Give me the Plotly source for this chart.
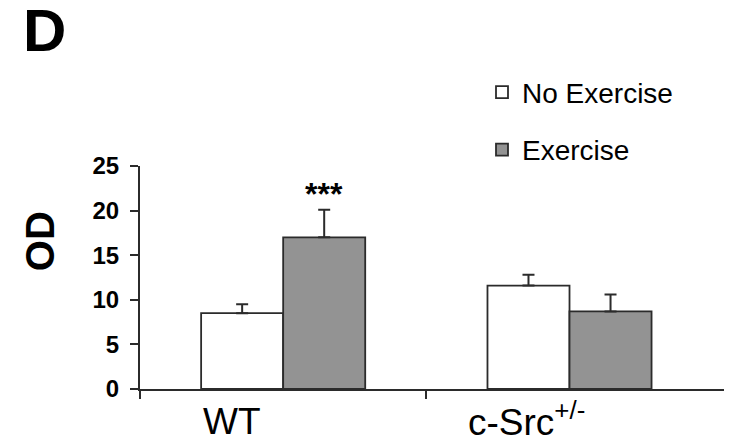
import plotly.graph_objects as go

categories = ["WT", "c-Src+/-"]
series_names = ["No Exercise", "Exercise"]
no_ex_values = [8.5, 11.6]
no_ex_err = [1.0, 1.2]
ex_values = [17.0, 8.7]
ex_err = [3.1, 1.9]
y_ticks = [0, 5, 10, 15, 20, 25]

FONT = "Liberation Sans, Arial, sans-serif"
LINE = "#2b2b2b"

fig = go.Figure()
fig.add_trace(go.Bar(
    name=series_names[0], x=categories, y=no_ex_values, legendgroup="a",
    marker=dict(color="white", line=dict(color=LINE, width=1.8)),
    error_y=dict(type="data", symmetric=False, array=no_ex_err,
                 arrayminus=[0, 0], color=LINE, thickness=2, width=6),
))
fig.add_trace(go.Bar(
    name=series_names[1], x=categories, y=ex_values, legendgroup="b",
    marker=dict(color="#939393", line=dict(color=LINE, width=1.8)),
    error_y=dict(type="data", symmetric=False, array=ex_err,
                 arrayminus=[0, 0], color=LINE, thickness=2, width=6),
))

annotations = [
    dict(text="D", xref="paper", yref="paper", x=(21 - 140) / 587, y=(389 - 30) / 223.3,
         xanchor="left", yanchor="middle", showarrow=False,
         font=dict(family=FONT, size=60, color="black", weight="bold")),
    dict(text="OD", xref="paper", yref="paper", x=(40 - 140) / 587, y=(389 - 241) / 223.3,
         xanchor="center", yanchor="middle", textangle=-90, showarrow=False,
         font=dict(family=FONT, size=40, color="black", weight="bold")),
    dict(text="***", xref="x", yref="y", x=categories[0], xshift=41,
         y=ex_values[0] + ex_err[0], yanchor="bottom", yshift=-4, showarrow=False,
         font=dict(family=FONT, size=32, color="black", weight="bold")),
    dict(text="WT", xref="x", yref="paper", x=categories[0], xshift=-51, y=0,
         yanchor="top", yshift=-10, showarrow=False,
         font=dict(family=FONT, size=37, color="black")),
    dict(text="c-Src<sup>+/-</sup>", xref="x", yref="paper", x=categories[1], xshift=-43, y=0,
         yanchor="top", yshift=-5, showarrow=False,
         font=dict(family=FONT, size=37, color="black")),
]

fig.update_layout(
    width=724, height=432,
    margin=dict(l=132, r=5, t=158, b=51, autoexpand=False),
    paper_bgcolor="white", plot_bgcolor="white",
    barmode="group", bargap=0.427, bargroupgap=0,
    font=dict(family=FONT, color="black"),
    showlegend=True,
    legend=dict(x=(482 - 140) / 587, y=(389 - 67) / 223.3, xanchor="left", yanchor="top",
                font=dict(family=FONT, size=28, color="black"),
                bgcolor="rgba(0,0,0,0)", tracegroupgap=18, itemwidth=30),
    annotations=annotations,
    xaxis=dict(range=[-0.5, 1.55], tickmode="array", tickvals=[-0.5, 0.5, 1.55],
               showticklabels=False, ticks="outside", ticklen=8, tickwidth=1.5,
               tickcolor=LINE, showline=True, linecolor=LINE, linewidth=2,
               showgrid=False, zeroline=False, fixedrange=True),
    yaxis=dict(range=[0, 25], tickvals=y_ticks, ticks="outside", ticklen=8,
               tickwidth=1.5, tickcolor=LINE, showline=True, linecolor=LINE,
               linewidth=2, showgrid=False, zeroline=False, ticklabelstandoff=6,
               tickfont=dict(family=FONT, size=24, color="black", weight="bold")),
)

fig.write_html("out.html")
